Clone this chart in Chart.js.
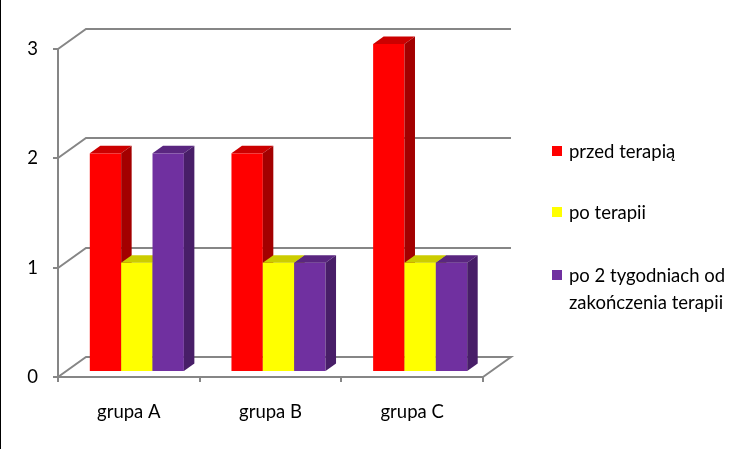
<!DOCTYPE html>
<html>
<head>
<meta charset="utf-8">
<script src="https://cdn.jsdelivr.net/npm/chart.js@4.4.0/dist/chart.umd.min.js"></script>
<style>
  html, body { margin: 0; padding: 0; background: #fff; }
  canvas { display: block; }
</style>
</head>
<body>
<canvas id="chart" width="751" height="449"></canvas>
<script>
const categories = ['grupa A', 'grupa B', 'grupa C'];
const seriesNames = ['przed terapią', 'po terapii', 'po 2 tygodniach od zakończenia terapii'];
const legendLines = [['przed terapią'], ['po terapii'], ['po 2 tygodniach od', 'zakończenia terapii']];
const przedTerapia = [2, 2, 3];
const poTerapii = [1, 1, 1];
const po2Tygodniach = [2, 1, 1];
const yTicks = [0, 1, 2, 3];

const FONT = 'Lato, "Open Sans", sans-serif';
const FSIZE = 18.5;
const GRID = '#868686';
// colours of the front / top / side faces
const faces = [
    { front: '#ff0000', top: '#cc0000', side: '#a30000' },
    { front: '#ffff00', top: '#cccc00', side: '#a3a300' },
    { front: '#7030a0', top: '#5a2680', side: '#481e68' },
];

// box depth (back wall offset) and bar offset / depth
const DX = 28, DY = 20;
const BX = 8, BY = 5;
const BDX = 10.5, BDY = 7.5;

function drawBar(ctx, l, r, t, b, c) {
    ctx.fillStyle = c.front;
    ctx.fillRect(l, t, r - l, b - t);

    ctx.fillStyle = c.top;
    ctx.beginPath();
    ctx.moveTo(l, t);
    ctx.lineTo(l + BDX, t - BDY);
    ctx.lineTo(r + BDX, t - BDY);
    ctx.lineTo(r, t);
    ctx.closePath();
    ctx.fill();

    ctx.fillStyle = c.side;
    ctx.beginPath();
    ctx.moveTo(r, t);
    ctx.lineTo(r + BDX, t - BDY);
    ctx.lineTo(r + BDX, b - BDY);
    ctx.lineTo(r, b);
    ctx.closePath();
    ctx.fill();
}

const box3d = {
    id: 'box3d',
    beforeDatasetsDraw(chart) {
        const { ctx, chartArea: a, scales: { y } } = chart;
        ctx.save();

        // walls and floor
        ctx.strokeStyle = GRID;
        ctx.lineWidth = 2;
        yTicks.forEach(v => {
            const py = Math.round(y.getPixelForValue(v));
            ctx.beginPath();
            ctx.moveTo(a.left, py);
            ctx.lineTo(a.left + DX, py - DY);
            ctx.lineTo(a.right + DX, py - DY);
            if (v === 0) ctx.lineTo(a.right, py);
            ctx.stroke();
        });

        // bars, left to right
        categories.forEach((c, j) => {
            chart.data.datasets.forEach((ds, i) => {
                const bar = chart.getDatasetMeta(i).data[j];
                const l = bar.x - bar.width / 2 + BX;
                const r = bar.x + bar.width / 2 + BX;
                drawBar(ctx, l, r, bar.y - BY, bar.base - BY, faces[i]);
            });
        });

        ctx.restore();
        return false;
    },
    afterDraw(chart) {
        const ctx = chart.ctx;
        ctx.save();

        // legend
        const rows = [151, 212, 275];
        ctx.font = FSIZE + 'px ' + FONT;
        ctx.textBaseline = 'middle';
        legendLines.forEach((lines, i) => {
            ctx.fillStyle = faces[i].front;
            ctx.fillRect(552, rows[i] - 5, 10, 10);
            ctx.fillStyle = '#000';
            lines.forEach((t, k) => ctx.fillText(t, 569, rows[i] + 1 + k * 27));
        });

        // left frame edge
        ctx.fillStyle = '#000';
        ctx.fillRect(0, 0, 1, chart.height);
        ctx.restore();
    }
};

new Chart(document.getElementById('chart'), {
    type: 'bar',
    data: {
        labels: categories,
        datasets: [
            { label: seriesNames[0], data: przedTerapia, backgroundColor: faces[0].front },
            { label: seriesNames[1], data: poTerapii, backgroundColor: faces[1].front },
            { label: seriesNames[2], data: po2Tygodniach, backgroundColor: faces[2].front },
        ]
    },
    options: {
        responsive: false,
        devicePixelRatio: 1,
        animation: false,
        categoryPercentage: 0.664,
        barPercentage: 1,
        layout: { padding: { left: 0, top: 49, right: 268, bottom: 0 } },
        plugins: {
            legend: { display: false },
            tooltip: { enabled: false }
        },
        scales: {
            x: {
                afterFit: s => { s.height = 72; },
                ticks: { padding: 19, color: '#000', font: { family: FONT, size: FSIZE } },
                grid: { offset: true, drawOnChartArea: false, drawTicks: true, tickLength: 5, color: GRID, lineWidth: 2 },
                border: { display: true, color: GRID, width: 2 }
            },
            y: {
                min: 0,
                max: 3,
                afterFit: s => { s.width = 58; },
                afterBuildTicks: s => { s.ticks = yTicks.map(v => ({ value: v })); },
                ticks: { padding: 15, color: '#000', font: { family: FONT, size: FSIZE } },
                grid: { drawOnChartArea: false, drawTicks: true, tickLength: 5, color: GRID, lineWidth: 2 },
                border: { display: true, color: GRID, width: 2 }
            }
        }
    },
    plugins: [box3d]
});
</script>
</body>
</html>
